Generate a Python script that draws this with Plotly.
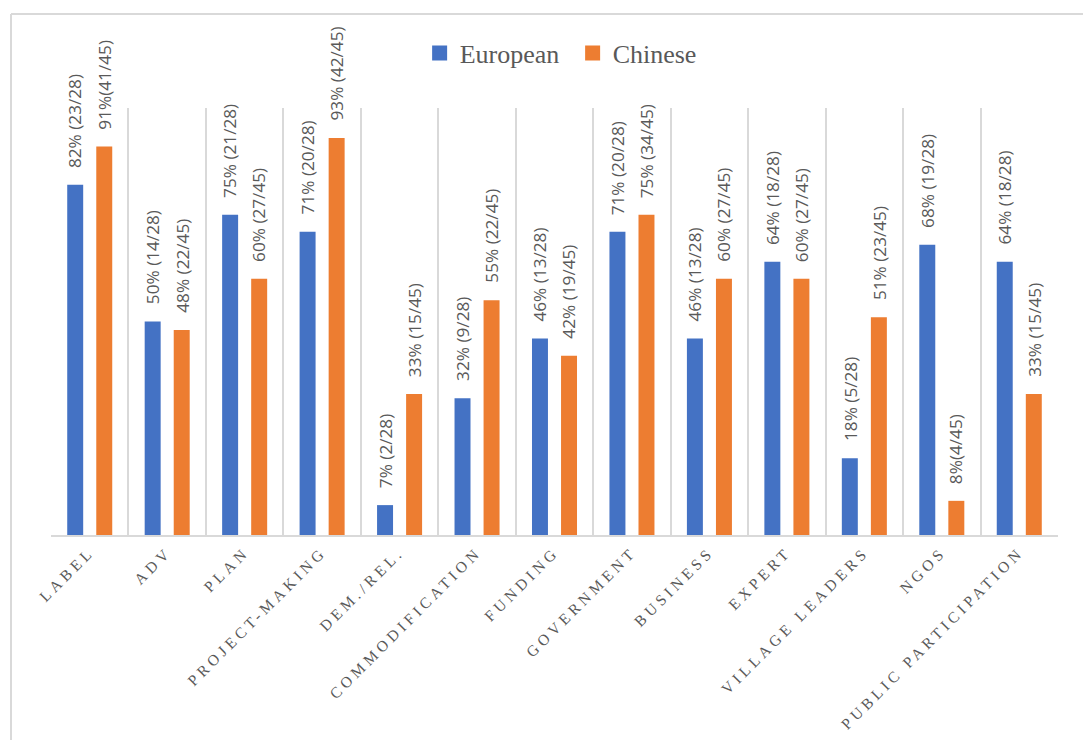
import plotly.graph_objects as go

categories = ["LABEL", "ADV", "PLAN", "PROJECT-MAKING", "DEM./REL.", "COMMODIFICATION",
              "FUNDING", "GOVERNMENT", "BUSINESS", "EXPERT", "VILLAGE LEADERS", "NGOS",
              "PUBLIC PARTICIPATION"]
european = [82, 50, 75, 71, 7, 32, 46, 71, 46, 64, 18, 68, 64]
chinese = [91, 48, 60, 93, 33, 55, 42, 75, 60, 60, 51, 8, 33]
european_labels = ["82% (23/28)", "50% (14/28)", "75% (21/28)", "71% (20/28)", "7% (2/28)",
                   "32% (9/28)", "46% (13/28)", "71% (20/28)", "46% (13/28)", "64% (18/28)",
                   "18% (5/28)", "68% (19/28)", "64% (18/28)"]
chinese_labels = ["91%(41/45)", "48% (22/45)", "60% (27/45)", "93% (42/45)", "33% (15/45)",
                  "55% (22/45)", "42% (19/45)", "75% (34/45)", "60% (27/45)", "60% (27/45)",
                  "51% (23/45)", "8%(4/45)", "33% (15/45)"]

OFF = 8  # page body margin
W, H = 1091 - OFF, 740 - OFF
ML = 51 - OFF
MT = 108 - OFF
PLOT_RIGHT = 1058 - OFF
PLOT_BOTTOM = 535 - OFF
MR = W - PLOT_RIGHT
MB = H - PLOT_BOTTOM
plot_w = W - ML - MR
plot_h = H - MT - MB

BLUE = "#4472C4"
ORANGE = "#ED7D31"
GRAY_TEXT = "#595959"
GRID = "#d9d9d9"

fig = go.Figure()
fig.add_trace(go.Bar(x=categories, y=european, name="European", marker_color=BLUE,
                     marker_line_width=0, showlegend=False))
fig.add_trace(go.Bar(x=categories, y=chinese, name="Chinese", marker_color=ORANGE,
                     marker_line_width=0, showlegend=False))
# legend entries with larger square swatches
fig.add_trace(go.Scatter(x=[None], y=[None], mode="markers", name="European",
                         marker=dict(symbol="square", size=15, color=BLUE)))
fig.add_trace(go.Scatter(x=[None], y=[None], mode="markers", name="Chinese",
                         marker=dict(symbol="square", size=15, color=ORANGE)))

annotations = []
for i, cat in enumerate(categories):
    for val, lab, shift in ((european[i], european_labels[i], -14.5),
                            (chinese[i], chinese_labels[i], 14.5)):
        annotations.append(dict(x=cat, y=val, xref="x", yref="y", text=lab,
                                textangle=-90, showarrow=False, xshift=shift,
                                yshift=15, yanchor="bottom", xanchor="center",
                                font=dict(family="Open Sans", size=17.2, color=GRAY_TEXT)))

def px_x(px):
    return (px - OFF - ML) / plot_w

def px_y(py):
    return (H - MB - (py - OFF)) / plot_h

shapes = [
    dict(type="line", xref="paper", yref="paper", x0=px_x(11), x1=px_x(1110),
         y0=px_y(14), y1=px_y(14), line=dict(color=GRID, width=2), layer="below"),
    dict(type="line", xref="paper", yref="paper", x0=px_x(11), x1=px_x(11),
         y0=px_y(14), y1=px_y(770), line=dict(color=GRID, width=2), layer="below"),
]

fig.update_layout(
    width=W, height=H,
    margin=dict(l=ML, r=MR, t=MT, b=MB, autoexpand=False),
    paper_bgcolor="white", plot_bgcolor="white",
    barmode="group", bargap=0.25, bargroupgap=0.45,
    showlegend=True,
    legend=dict(orientation="h", x=0.518, xanchor="center", yref="container",
                y=1 - (53 - OFF) / H, yanchor="middle",
                font=dict(family="Liberation Serif", size=26, color=GRAY_TEXT),
                itemwidth=30, tracegroupgap=0, entrywidthmode="pixels", entrywidth=108),
    annotations=annotations,
    shapes=shapes,
    xaxis=dict(type="category", range=[-0.5, len(categories) - 0.5],
               tickson="boundaries", showgrid=True, gridcolor=GRID, gridwidth=2,
               ticks="", showline=True, linecolor=GRID, linewidth=2,
               tickangle=-45,
               tickfont=dict(family="Liberation Serif", size=15.5, color=GRAY_TEXT)),
    yaxis=dict(range=[0, 100], showgrid=False, showticklabels=False, zeroline=False,
               showline=False, ticks=""),
)

post_js = """
function spaceTicks(){
  document.querySelectorAll('.xtick text').forEach(function(t){
    t.style.letterSpacing = '4px';
  });
}
spaceTicks();
var gd = document.getElementsByClassName('plotly-graph-div')[0];
if (gd && gd.on) { gd.on('plotly_afterplot', spaceTicks); }
"""

fig.write_html("out.html", post_script=post_js)
